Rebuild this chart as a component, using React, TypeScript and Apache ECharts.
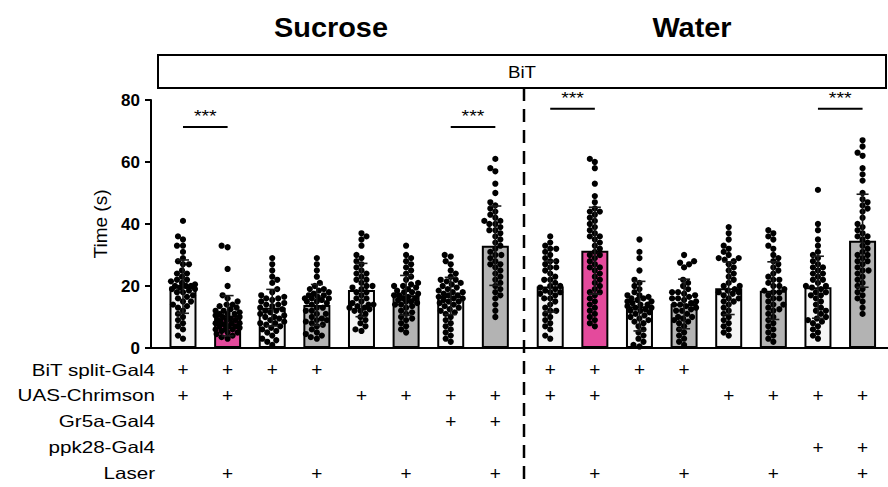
import React, { useEffect, useRef } from "react";
import * as echarts from "echarts";

// ---------------- DATA ----------------
const GROUPS = ["Sucrose", "Water"];
const BOX_LABEL = "BiT";
const Y_TICKS = [0, 20, 40, 60, 80];

// bar means and SD (16 bars: 8 sucrose, 8 water)
const MEANS = [19.8, 10.4, 13.0, 13.9, 18.7, 17.0, 16.8, 33.0, 19.8, 31.4, 13.5, 14.2, 19.3, 18.5, 19.6, 34.6];
const SDS = [8.6, 6.5, 5.9, 6.6, 8.6, 6.4, 6.0, 12.8, 8.2, 14.0, 8.0, 8.0, 8.5, 9.3, 10.0, 15.0];

// individual points per bar
const P01 = [41, 36, 35, 33, 33, 31, 29, 28, 27, 25, 24, 23, 22, 21.5, 21, 20.5, 20, 20, 19.5, 19, 19, 18.5, 18, 17, 16.5, 16, 15, 14, 13.5, 12, 11, 10, 9, 8, 7, 6, 4, 3, 22, 20, 18, 15, 13, 27, 24];
const P02 = [33, 32.5, 25.5, 20, 17, 16, 15, 14, 13.5, 13, 12.5, 12, 11.5, 11, 11, 10.5, 10, 10, 9.5, 9, 9, 8.5, 8, 8, 7.5, 7, 7, 6.5, 6, 6, 5.5, 5, 5, 4.5, 4, 3.5, 3, 12, 11, 9, 8, 7, 14, 6];
const P03 = [29, 27, 25, 23, 22, 21, 19, 18, 17, 16.5, 16, 15.5, 15, 14.5, 14, 13.5, 13, 12.5, 12, 11.5, 11, 10.5, 10, 9.5, 9, 8.5, 8, 7.5, 7, 6.5, 6, 5.5, 5, 4, 3, 2.5, 2, 1, 12, 10, 8, 14, 16];
const P04 = [29, 27, 25, 23, 21, 20, 19, 18.5, 18, 17.5, 17, 16.5, 16, 16, 15.5, 15, 14.5, 14, 13, 12, 11, 10, 9.5, 9, 8.5, 8, 7.5, 7, 6, 5, 4.5, 4, 3.5, 3, 17, 15, 13, 11, 9, 12, 16, 19];
const P05 = [37, 36, 35, 33, 30, 29, 28, 27, 26, 25, 24, 23, 22, 21, 20, 19.5, 19, 18, 17, 16, 15, 14.5, 14, 13.5, 13, 12.5, 12, 11, 10, 9, 8, 7, 6, 5.5, 13, 14, 12, 16, 20, 22, 24, 18];
const P06 = [33, 30, 29, 28, 27, 26, 25, 24, 23, 22, 21, 20.5, 20, 19.5, 19, 18.5, 18, 17.5, 17, 16.5, 16, 15.5, 15, 14.5, 14, 13.5, 13, 12, 11.5, 11, 10, 9.5, 9, 8, 7, 6, 5, 18, 17, 16, 15, 20, 14];
const P07 = [30, 29.5, 28, 27, 25, 24, 23, 22, 21.5, 21, 20.5, 20, 19.5, 19, 18.5, 18, 17.5, 17, 16.5, 16, 15.5, 15, 14.5, 14, 13.5, 13, 12.5, 12, 11.5, 11, 10, 9, 8, 7, 6, 5, 4, 3, 2, 18, 17, 16, 22, 15];
const P08 = [61, 58, 57, 53, 50, 47, 46, 45, 44, 43, 42, 41, 40, 39, 38, 37, 36, 35, 34, 33, 32, 31, 30, 29, 28, 27, 26, 25, 24, 23, 22, 21, 20, 19, 18, 17, 16, 14, 12, 10, 41, 40, 38, 30, 27];
const P09 = [36, 34, 33, 32, 31, 30, 29, 28, 27, 26, 25, 24, 23, 22, 21, 20, 19.5, 19, 18.5, 18, 17.5, 17, 16, 15, 14, 13, 12, 11, 10, 9, 8, 7, 6, 4, 3, 26, 22, 20, 18, 16, 12, 28, 32];
const P10 = [61, 60, 58, 53, 49, 47, 45, 44, 43, 42, 41, 40, 39, 38, 37, 36, 35, 34, 33, 32, 31, 30, 29, 28, 27, 26, 25, 24, 23, 22, 21, 20, 19, 18, 17, 16, 15, 14, 13, 12, 11, 10, 9, 8, 7, 44, 36, 30, 26, 18];
const P11 = [35, 31, 29, 25, 22, 21, 20, 19, 18, 17, 16.5, 16, 15.5, 15, 14.5, 14, 13.5, 13, 12.5, 12, 11.5, 11, 10.5, 10, 9.5, 9, 8.5, 8, 7, 6, 5, 4, 3, 2, 1, 0.5, 16, 15, 14, 12, 13, 17];
const P12 = [30, 28, 27.5, 27, 26, 22, 21, 20, 19, 18, 17.5, 17, 16.5, 16, 15.5, 15, 14.5, 14, 13.5, 13, 12.5, 12, 11, 10, 9.5, 9, 8.5, 8, 7, 6, 5, 4, 3, 2, 1, 14, 16, 12, 10, 18];
const P13 = [39, 37, 35, 33, 32, 31, 30, 29, 28.5, 28, 27, 26, 25, 24, 23, 22, 21, 20, 19, 18.5, 18, 17.5, 17, 16, 15, 14, 13, 12, 11, 10, 9, 8, 7, 6, 5, 4, 29, 20, 18, 16, 15];
const P14 = [38, 37, 36, 35, 33, 32, 30, 29, 28, 27, 26, 25, 24, 23, 22, 21, 20, 19, 18.5, 18, 17, 16, 15, 14, 13, 12.5, 12, 11, 10, 9, 8, 7, 6, 5, 4, 3, 2, 20, 18, 16, 14, 22];
const P15 = [51, 40, 38, 35, 33, 31, 30, 29, 28, 27, 26, 25, 24, 23, 22, 21, 20, 19.5, 19, 18, 17, 16, 15, 14, 13, 12, 11, 10, 9.5, 9, 8.5, 8, 7, 6, 5, 4, 3, 18, 20, 22, 17, 24, 26, 12];
const P16 = [67, 65, 63, 62, 58, 56, 54, 50, 48, 47, 46, 45, 44, 42, 40, 39, 38, 37, 36, 35, 34, 33, 32, 31, 30, 29, 28, 27, 26, 25, 24, 23, 22, 21, 20, 19, 18, 17, 16, 15, 13, 11, 36, 30, 28, 25];
const POINTS = [P01, P02, P03, P04, P05, P06, P07, P08, P09, P10, P11, P12, P13, P14, P15, P16];

// genotype table: bars (0-based) with "+"
const ROW_LABELS = ["BiT split-Gal4", "UAS-Chrimson", "Gr5a-Gal4", "ppk28-Gal4", "Laser"];
const ROW_BIT = [0, 1, 2, 3, 8, 9, 10, 11];
const ROW_UAS = [0, 1, 4, 5, 6, 7, 8, 9, 12, 13, 14, 15];
const ROW_GR5A = [6, 7];
const ROW_PPK28 = [14, 15];
const ROW_LASER = [1, 3, 5, 7, 9, 11, 13, 15];
const ROWS = [ROW_BIT, ROW_UAS, ROW_GR5A, ROW_PPK28, ROW_LASER];
const PLUS = "+";

// significance: [barA, barB, height]
const SIG_PAIRS = [
  [0, 1, 71.3],
  [6, 7, 71.3],
  [8, 9, 77.2],
  [14, 15, 77.2],
];
const SIG_TEXT = "***";

// ---------------- LAYOUT / STYLE ----------------
const W = 888;
const H = 487;
const FONT = '"Liberation Sans", Arial, Helvetica, sans-serif';
const GRID_LEFT = 151;
const GRID_TOP = 100;
const GRID_H = 248;
const GRID_W = W - GRID_LEFT;
const XMIN = 0.283;
const XMAX = 16.8;
const YMAX = 80;
const GROUP_GAP = 0.23;
const PPX = GRID_W / (XMAX - XMIN);
const PPY = GRID_H / YMAX;
const WHITE = "#f4f4f4";
const PINK = "#e44a9c";
const GRAY = "#b3b3b3";
const BAR_COLORS = [WHITE, PINK, WHITE, GRAY, WHITE, GRAY, WHITE, GRAY, WHITE, PINK, WHITE, GRAY, WHITE, GRAY, WHITE, GRAY];

const pos = (i: number) => 1 + i + (i >= 8 ? GROUP_GAP : 0);

// deterministic beeswarm layout (pixel space)
function swarm(vals: number[]): number[] {
  const D = 5.6;
  const MAXOFF = 12;
  const order = vals.map((_, i) => i).sort((a, b) => vals[a] - vals[b]);
  const placed: { x: number; y: number }[] = [];
  const res = new Array(vals.length).fill(0);
  order.forEach((i, n) => {
    const y = vals[i] * PPY;
    const sgn = n % 2 === 0 ? 1 : -1;
    let best = 0;
    let bestScore = -1;
    for (let k = 0; k <= MAXOFF * 2; k++) {
      const mag = Math.ceil(k / 2);
      const cand = k === 0 ? 0 : (k % 2 === 1 ? sgn : -sgn) * mag;
      if (Math.abs(cand) > MAXOFF) break;
      let minD = Infinity;
      for (const p of placed) {
        const d = Math.hypot(p.x - cand, p.y - y);
        if (d < minD) minD = d;
      }
      if (minD >= D) {
        best = cand;
        bestScore = Infinity;
        break;
      }
      if (minD > bestScore) {
        bestScore = minD;
        best = cand;
      }
    }
    placed.push({ x: best, y });
    res[i] = best / PPX;
  });
  return res;
}

const textStyle = (text: string, size: number, align: string, weight = "normal") => ({
  text,
  fontFamily: FONT,
  fontSize: size,
  fontWeight: weight,
  fill: "#000",
  stroke: "none",
  lineWidth: 0,
  textAlign: align,
  textVerticalAlign: "middle",
  verticalAlign: "middle",
});

export default function App() {
  const ref = useRef<HTMLDivElement>(null);
  useEffect(() => {
    const chart = echarts.init(ref.current!, null, { renderer: "svg" });

    const barData = MEANS.map((m, i) => ({ value: [pos(i), m], itemStyle: { color: BAR_COLORS[i] } }));
    const scatterData: number[][] = [];
    POINTS.forEach((arr, i) => {
      const dx = swarm(arr);
      arr.forEach((v, j) => scatterData.push([pos(i) + dx[j], v]));
    });
    const errData = MEANS.map((m, i) => [pos(i), m - SDS[i], m + SDS[i]]);
    const sigData = SIG_PAIRS.map(([a, b, y]) => [pos(a), pos(b), y]);
    const plusData: number[][] = [];
    ROWS.forEach((bars, r) => bars.forEach((b) => plusData.push([pos(b), r])));
    const rowLabelData = ROW_LABELS.map((_, r) => [XMIN, r]);

    const option: any = {
      animation: false,
      backgroundColor: "#ffffff",
      color: ["#000"],
      grid: [
        { left: GRID_LEFT, top: GRID_TOP, width: GRID_W, height: GRID_H },
        { left: GRID_LEFT, top: 357, width: GRID_W, height: 129 },
      ],
      xAxis: [
        {
          type: "value",
          gridIndex: 0,
          min: XMIN,
          max: XMAX,
          axisLine: { show: true, onZero: false, lineStyle: { color: "#000", width: 2 } },
          axisTick: { show: false },
          axisLabel: { show: false },
          splitLine: { show: false },
        },
        {
          type: "value",
          gridIndex: 1,
          min: XMIN,
          max: XMAX,
          show: false,
        },
      ],
      yAxis: [
        {
          type: "value",
          gridIndex: 0,
          min: 0,
          max: YMAX,
          interval: Y_TICKS[1] - Y_TICKS[0],
          name: "Time (s)",
          nameLocation: "middle",
          nameGap: 38,
          nameTextStyle: { fontFamily: FONT, fontSize: 19, color: "#000" },
          axisLine: { show: true, lineStyle: { color: "#000", width: 2 } },
          axisTick: { show: true, length: 6, lineStyle: { color: "#000", width: 2 } },
          axisLabel: {
            fontFamily: FONT,
            fontSize: 17,
            fontWeight: "bold",
            color: "#000",
            margin: 11,
            formatter: (v: number) => (Y_TICKS.includes(v) ? String(v) : ""),
          },
          splitLine: { show: false },
        },
        {
          type: "category",
          gridIndex: 1,
          data: ROW_LABELS,
          inverse: true,
          show: false,
        },
      ],
      series: [
        {
          type: "bar",
          xAxisIndex: 0,
          yAxisIndex: 0,
          barWidth: 27,
          data: barData,
          itemStyle: { borderColor: "#000", borderWidth: 2 },
          z: 1,
          silent: true,
        },
        {
          type: "scatter",
          xAxisIndex: 0,
          yAxisIndex: 0,
          data: scatterData,
          symbolSize: 6.2,
          itemStyle: { color: "#000", opacity: 1 },
          z: 2,
          silent: true,
        },
        {
          type: "custom",
          xAxisIndex: 0,
          yAxisIndex: 0,
          data: errData,
          z: 3,
          silent: true,
          itemStyle: { color: "#000" },
          renderItem: (params: any, api: any) => {
            const x = api.value(0);
            const lo = api.coord([x, api.value(1)]);
            const hi = api.coord([x, api.value(2)]);
            const c = 6;
            const st = { stroke: "#1a1a1a", lineWidth: 1.6 };
            return {
              type: "group",
              children: [
                { type: "line", shape: { x1: lo[0], y1: lo[1], x2: hi[0], y2: hi[1] }, style: st },
                { type: "line", shape: { x1: hi[0] - c, y1: hi[1], x2: hi[0] + c, y2: hi[1] }, style: st },
                { type: "line", shape: { x1: lo[0] - c, y1: lo[1], x2: lo[0] + c, y2: lo[1] }, style: st },
              ],
            };
          },
        },
        {
          type: "custom",
          xAxisIndex: 0,
          yAxisIndex: 0,
          data: sigData,
          z: 3,
          silent: true,
          itemStyle: { color: "#000" },
          renderItem: (params: any, api: any) => {
            const a = api.coord([api.value(0), api.value(2)]);
            const b = api.coord([api.value(1), api.value(2)]);
            return {
              type: "group",
              children: [
                { type: "line", shape: { x1: a[0], y1: a[1], x2: b[0], y2: b[1] }, style: { stroke: "#000", lineWidth: 2 } },
                {
                  type: "text",
                  x: (a[0] + b[0]) / 2,
                  y: a[1] - 11,
                  scaleX: 1.15,
                  style: textStyle(SIG_TEXT, 17, "center"),
                },
              ],
            };
          },
        },
        {
          type: "custom",
          xAxisIndex: 1,
          yAxisIndex: 1,
          data: plusData,
          silent: true,
          itemStyle: { color: "#000" },
          renderItem: (params: any, api: any) => {
            const p = api.coord([api.value(0), api.value(1)]);
            return {
              type: "text",
              x: p[0],
              y: p[1],
              style: textStyle(PLUS, 19, "center"),
            };
          },
        },
        {
          type: "custom",
          xAxisIndex: 1,
          yAxisIndex: 1,
          data: rowLabelData,
          silent: true,
          itemStyle: { color: "#000" },
          renderItem: (params: any, api: any) => {
            const p = api.coord([api.value(0), api.value(1)]);
            return {
              type: "text",
              x: p[0] + 4,
              y: p[1],
              scaleX: 1.25,
              style: textStyle(ROW_LABELS[params.dataIndex], 16.5, "right"),
            };
          },
        },
      ],
      graphic: [
        {
          type: "text",
          x: 331,
          y: 28,
          scaleX: 1.07,
          style: textStyle(GROUPS[0], 27, "center", "bold"),
        },
        {
          type: "text",
          x: 692,
          y: 28,
          scaleX: 1.07,
          style: textStyle(GROUPS[1], 27, "center", "bold"),
        },
        {
          type: "rect",
          shape: { x: 158, y: 55, width: 728, height: 33 },
          style: { fill: "none", stroke: "#000", lineWidth: 2 },
        },
        {
          type: "text",
          x: 522,
          y: 72,
          scaleX: 1.1,
          style: textStyle(BOX_LABEL, 17, "center"),
        },
        {
          type: "line",
          shape: { x1: 524, y1: 88, x2: 524, y2: 487 },
          style: { stroke: "#000", lineWidth: 2.5, lineDash: [13, 8] },
        },
      ],
    };

    chart.setOption(option);
    return () => chart.dispose();
  }, []);

  return (
    <div
      ref={ref}
      style={{ position: "absolute", left: 0, top: 0, width: W, height: H, background: "#fff" }}
    />
  );
}
